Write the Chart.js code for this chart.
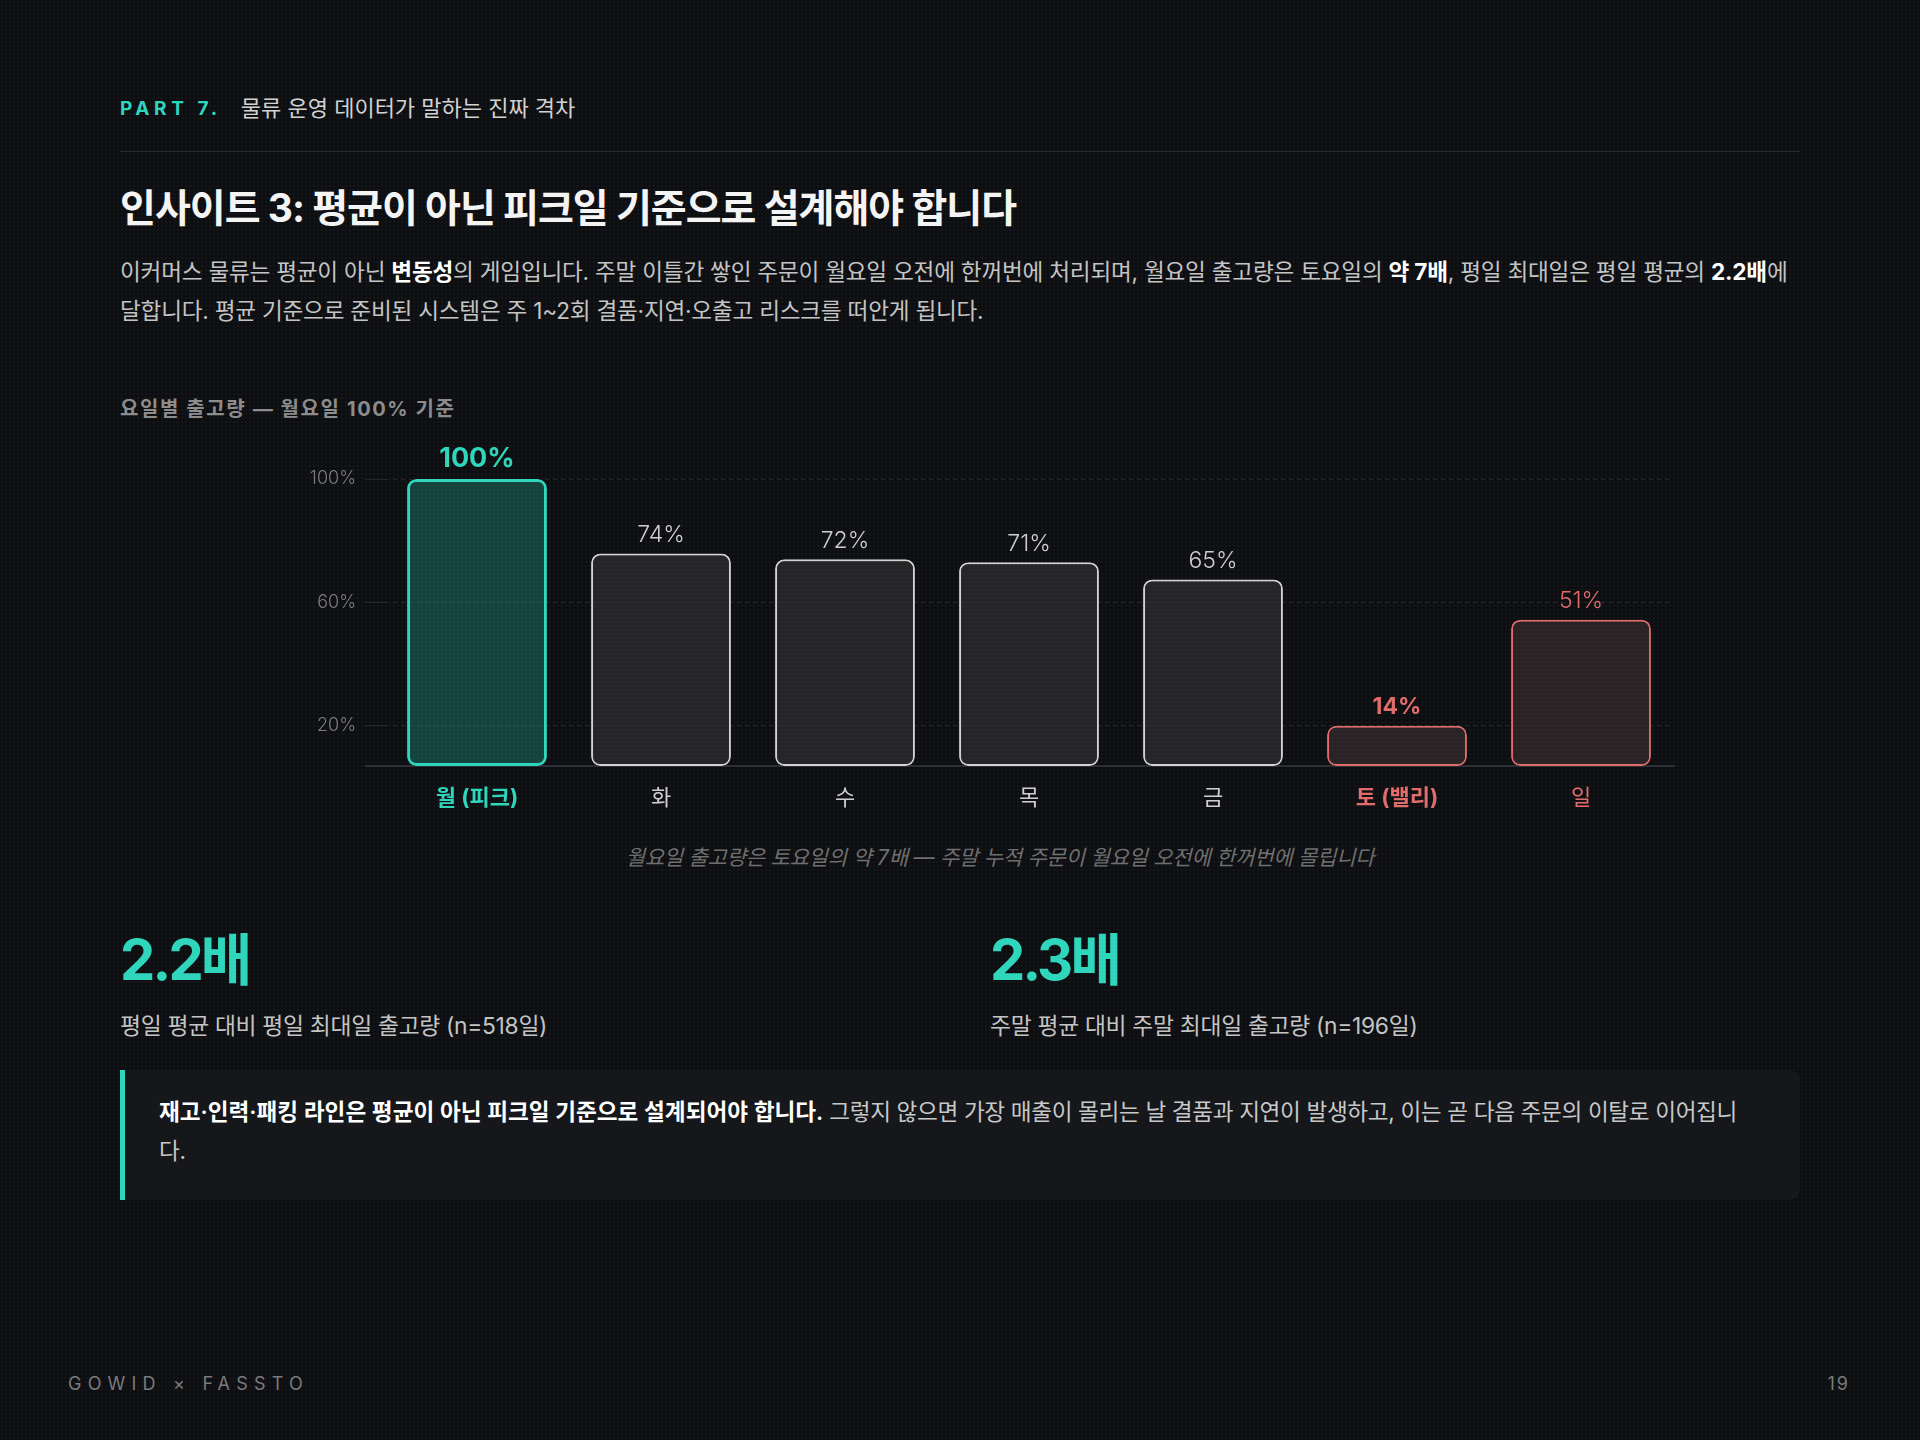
<!DOCTYPE html>
<html lang="ko">
<head>
    <meta charset="UTF-8" />
    <title>인사이트 3</title>
    <script src="https://cdn.jsdelivr.net/npm/chart.js"></script>
    <style>
        html, body {
            margin: 0;
            padding: 0;
        }

        body {
            width: 1920px;
            height: 1440px;
            position: relative;
            overflow: hidden;
            background-color: #0d0e11;
            background-image: radial-gradient(rgba(255, 255, 255, 0.035) 1px, transparent 1px);
            background-size: 4px 4px;
            font-family: Inter, "Noto Sans CJK KR", sans-serif;
            color: #e8e8e8;
        }

        .abs { position: absolute; }

        #part {
            left: 120px;
            top: 90px;
            font-size: 22px;
            color: #d2d2d2;
            white-space: nowrap;
        }

        #part b {
            color: #2fd6bc;
            font-size: 19px;
            letter-spacing: 4.6px;
            margin-right: 19px;
            vertical-align: 1px;
        }

        #rule {
            left: 120px;
            top: 151px;
            width: 1680px;
            height: 1px;
            background: #26282c;
        }

        h1 {
            left: 120px;
            top: 177px;
            margin: 0;
            font-size: 39px;
            font-weight: 700;
            letter-spacing: -1px;
            color: #f4f4f4;
            white-space: nowrap;
        }

        #lead {
            left: 120px;
            top: 252px;
            width: 1690px;
            margin: 0;
            font-size: 22.6px;
            line-height: 39px;
            color: #c4c4c4;
            letter-spacing: -0.22px;
        }

        #lead b { color: #ffffff; }

        #chartTitle {
            left: 120px;
            top: 393px;
            font-size: 20px;
            font-weight: 700;
            letter-spacing: 1.6px;
            color: #8c8c8c;
            white-space: nowrap;
        }

        #chartBox {
            left: 240px;
            top: 430px;
            width: 1520px;
            height: 400px;
        }

        #caption {
            left: 240px;
            top: 841px;
            width: 1520px;
            text-align: center;
            font-size: 21px;
            font-style: italic;
            color: #6f6f6f;
            letter-spacing: -0.25px;
        }

        .stat { top: 924px; width: 810px; }
        .stat .num {
            font-size: 56px;
            font-weight: 700;
            color: #2fd6bc;
            letter-spacing: -2.8px;
            line-height: 72px;
        }
        .stat .lbl {
            margin-top: 12px;
            font-size: 22.8px;
            color: #c4c4c4;
            letter-spacing: -0.3px;
        }

        #callout {
            left: 120px;
            top: 1070px;
            width: 1680px;
            height: 130px;
            box-sizing: border-box;
            background: #15171b;
            border-left: 5px solid #2fd6bc;
            border-radius: 0 10px 10px 0;
            padding: 22px 44px 0 34px;
            font-size: 22.6px;
            line-height: 39px;
            color: #c8c8c8;
        }

        #callout b { color: #ffffff; font-weight: 600; }
        #callout span { letter-spacing: -0.35px; }

        #footL {
            left: 68px;
            top: 1373px;
            font-size: 18px;
            letter-spacing: 6.2px;
            color: #7a7a7a;
        }

        #footR {
            right: 70px;
            top: 1373px;
            font-size: 18px;
            letter-spacing: 2px;
            color: #7a7a7a;
        }
    </style>
</head>

<body>
    <div id="part" class="abs"><b>PART 7.</b>물류 운영 데이터가 말하는 진짜 격차</div>
    <div id="rule" class="abs"></div>
    <h1 class="abs">인사이트 3: 평균이 아닌 피크일 기준으로 설계해야 합니다</h1>
    <p id="lead" class="abs">이커머스 물류는 평균이 아닌 <b>변동성</b>의 게임입니다. 주말 이틀간 쌓인 주문이 월요일 오전에 한꺼번에 처리되며, 월요일 출고량은 토요일의 <b>약 7배</b>, 평일 최대일은 평일 평균의 <b>2.2배</b>에 달합니다. 평균 기준으로 준비된 시스템은 주 1~2회 결품·지연·오출고 리스크를 떠안게 됩니다.</p>

    <div id="chartTitle" class="abs">요일별 출고량 — 월요일 100% 기준</div>
    <div id="chartBox" class="abs"><canvas id="dayChart"></canvas></div>
    <div id="caption" class="abs">월요일 출고량은 토요일의 약 7배 — 주말 누적 주문이 월요일 오전에 한꺼번에 몰립니다</div>

    <div class="abs stat" style="left:120px">
        <div class="num">2.2배</div>
        <div class="lbl">평일 평균 대비 평일 최대일 출고량 (n=518일)</div>
    </div>
    <div class="abs stat" style="left:990px">
        <div class="num">2.3배</div>
        <div class="lbl">주말 평균 대비 주말 최대일 출고량 (n=196일)</div>
    </div>

    <div id="callout" class="abs"><b>재고·인력·패킹 라인은 평균이 아닌 피크일 기준으로 설계되어야 합니다.</b><span> 그렇지 않으면 가장 매출이 몰리는 날 결품과 지연이 발생하고, 이는 곧 다음 주문의 이탈로 이어집니다.</span></div>

    <div id="footL" class="abs">GOWID × FASSTO</div>
    <div id="footR" class="abs">19</div>

    <script>
        const days = ["월 (피크)", "화", "수", "목", "금", "토 (밸리)", "일"];
        const shares = [100, 74, 72, 71, 65, 14, 51];
        // gridlines sit where the reference draws them, labelled as printed there
        const gridValues = [14, 57, 100];
        const gridLabels = ["20%", "60%", "100%"];

        const TEAL = "#2fd6bc";
        const CORAL = "#e06c6c";
        const GREY = "#d2d2d2";
        const TICK_LEN = 20;

        const peak = shares.indexOf(Math.max(...shares));
        const valley = shares.indexOf(Math.min(...shares));

        function tone(i) {
            if (i === peak) return "peak";
            if (i >= 5) return "weekend";
            return "weekday";
        }

        const lineColor = i => ({ peak: TEAL, weekend: CORAL, weekday: GREY })[tone(i)];
        const fillColor = i => ({
            peak: "rgba(32, 140, 124, 0.42)",
            weekend: "rgba(62, 48, 52, 0.62)",
            weekday: "rgba(58, 54, 56, 0.55)"
        })[tone(i)];
        const textColor = i => i === peak ? TEAL : (tone(i) === "weekend" ? CORAL : "#cfcfcf");
        const isBold = i => i === peak || i === valley;

        // baseline runs under the bars and out under the y tick marks
        const baseline = {
            id: "baseline",
            beforeDatasetsDraw(chart) {
                const { ctx, chartArea, scales } = chart;
                const y = scales.y.getPixelForValue(0);
                ctx.save();
                ctx.strokeStyle = "#2c2f34";
                ctx.lineWidth = 2;
                ctx.beginPath();
                ctx.moveTo(chartArea.left - TICK_LEN, y);
                ctx.lineTo(chartArea.right + 2, y);
                ctx.stroke();
                ctx.restore();
            }
        };

        const valueLabels = {
            id: "valueLabels",
            afterDatasetsDraw(chart) {
                const ctx = chart.ctx;
                chart.getDatasetMeta(0).data.forEach((bar, i) => {
                    ctx.save();
                    const size = i === peak ? 27 : 23;
                    ctx.font = (isBold(i) ? "700 " : "300 ") + size + "px Inter, 'Noto Sans CJK KR'";
                    ctx.fillStyle = textColor(i);
                    ctx.textAlign = "center";
                    ctx.textBaseline = "bottom";
                    ctx.fillText(shares[i] + "%", bar.x, bar.y - 7);
                    ctx.restore();
                });
            }
        };

        new Chart(document.getElementById("dayChart"), {
            type: "bar",
            data: {
                labels: days,
                datasets: [{
                    data: shares,
                    backgroundColor: days.map((d, i) => fillColor(i)),
                    borderColor: days.map((d, i) => lineColor(i)),
                    borderWidth: days.map((d, i) => i === peak ? 3 : 2),
                    borderRadius: 9,
                    borderSkipped: false,
                    categoryPercentage: 1,
                    barPercentage: 0.76
                }]
            },
            options: {
                responsive: true,
                maintainAspectRatio: false,
                animation: false,
                layout: { padding: { top: 49, right: 87, left: 0, bottom: 0 } },
                plugins: {
                    legend: { display: false },
                    tooltip: { enabled: false }
                },
                scales: {
                    x: {
                        grid: { display: false, drawTicks: false },
                        border: { display: false },
                        afterFit: scale => { scale.height = 64; },
                        ticks: {
                            padding: 19,
                            color: ctx => textColor(ctx.index),
                            font: ctx => ({
                                family: "Inter, 'Noto Sans CJK KR'",
                                size: 22,
                                weight: isBold(ctx.index) ? "700" : "400"
                            })
                        }
                    },
                    y: {
                        min: 0,
                        max: 100,
                        afterFit: scale => { scale.width = 145; },
                        afterBuildTicks: scale => {
                            scale.ticks = gridValues.map(v => ({ value: v }));
                        },
                        grid: {
                            color: "rgba(255, 255, 255, 0.10)",
                            lineWidth: 1,
                            drawTicks: true,
                            tickLength: TICK_LEN,
                            tickColor: "rgba(255, 255, 255, 0.10)"
                        },
                        border: { display: false, dash: [4, 4] },
                        ticks: {
                            padding: 9,
                            color: "#7c7c7c",
                            font: { family: "Inter, 'Noto Sans CJK KR'", size: 18, weight: "300" },
                            callback: (value, index) => gridLabels[index]
                        }
                    }
                }
            },
            plugins: [baseline, valueLabels]
        });
    </script>
</body>
</html>
